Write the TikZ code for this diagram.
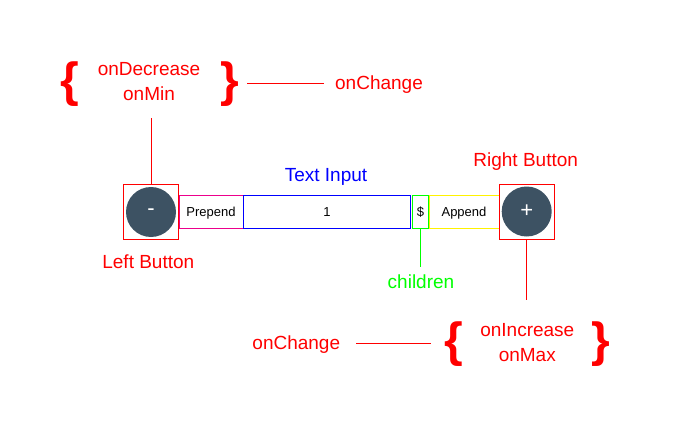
\documentclass[tikz,border=0pt]{standalone}
\usepackage{fontspec}
\setmainfont{Liberation Sans}
\definecolor{knobgray}{RGB}{61,82,99}
\begin{document}
\begin{tikzpicture}[x=1pt,y=-1pt]
		\tikzset{part/.style = {draw, line width = 1pt, minimum height = 33pt, inner sep = 0pt, text height = 10.4pt, text depth = 0pt, font = \fontsize{13}{13}\selectfont}}
		\tikzset{button/.style = {draw=red, line width = 1pt, minimum width = 55pt, minimum height = 55pt, inner sep = 0pt}}
		\tikzset{knob/.style = {shape=circle, fill=knobgray, minimum size = 50pt, inner sep = 0pt, text=white, font = \fontsize{22}{22}\selectfont}}
		\tikzset{partname/.style = {anchor=base, inner sep = 0pt, text=red, font = \fontsize{19}{19}\selectfont}}
		\tikzset{brace/.style = {inner sep = 0pt, text=red, font = \fontsize{48}{48}\selectfont\bfseries}}
		\tikzset{link/.style = {draw=red, line width = 1pt}}

		\useasboundingbox (0,0) rectangle (686,436);

		\node[button] (btn_l) at (151,211.5) {};
		\node[part, draw=magenta, minimum width = 64pt] (prepend) at (211,211.5) {Prepend};
		\node[part, draw=blue, minimum width = 167pt] (input) at (327,211.5) {1};
		\node[part, draw=yellow, minimum width = 70pt] (append) at (464,211.5) {Append};
		\node[part, draw=green, minimum width = 16pt] (dollar) at (420.5,211.5) {\$};
		\node[button] (btn_r) at (526.7,211.5) {};

		\node[knob] (knob_l) at (151,212) {-};
		\node[knob] (knob_r) at (526.7,211.5) {+};

		\node[partname] (name_l) at (148.3,268) {Left Button};
		\node[partname, text=blue] (name_in) at (326,181) {Text Input};
		\node[partname] (name_r) at (525.7,166.7) {Right Button};
		\node[partname, text=green] (name_kids) at (421,288) {children};

		\node[brace] (dec_l) at (70,84) {\{};
		\node[partname] (dec_1) at (149,76) {onDecrease};
		\node[partname] (dec_2) at (149,100) {onMin};
		\node[brace] (dec_r) at (229.7,84) {\}};
		\node[partname] (chg_top) at (379,90) {onChange};

		\node[partname] (chg_bot) at (296.3,349.3) {onChange};
		\node[brace] (inc_l) at (453.7,343.8) {\{};
		\node[partname] (inc_1) at (527.3,336) {onIncrease};
		\node[partname] (inc_2) at (527.3,361) {onMax};
		\node[brace] (inc_r) at (600.7,343.8) {\}};

		\coordinate (dec_end) at (151,118);
		\coordinate (inc_end) at (526.7,300);
		\coordinate (kids_end) at (420.5,267);

		\draw[link] (dec_end) -- (btn_l.north);
		\draw[link, shorten <= 8pt, shorten >= 11pt] (dec_r.east) -- (dec_r.east -| chg_top.west);
		\draw[link] (btn_r.south) -- (inc_end);
		\draw[link, shorten <= 16pt, shorten >= 13pt] (inc_l.west -| chg_bot.east) -- (inc_l.west);
		\draw[link, draw=green] (dollar.south) -- (kids_end);

	\end{tikzpicture}
\end{document}
